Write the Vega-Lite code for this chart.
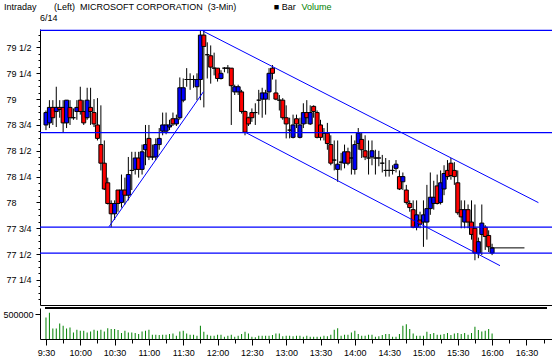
{
 "$schema": "https://vega.github.io/schema/vega-lite/v6.json",
 "padding": {"top": 3, "left": 0, "right": 0, "bottom": 0},
 "background": "white",
 "spacing": 2,
 "config": {
  "view": {"stroke": null},
  "font": "Liberation Sans",
  "axis": {"labelFont": "Liberation Sans", "labelFontSize": 9, "labelColor": "black", "domainColor": "black", "tickColor": "black", "grid": false, "domainWidth": 1, "tickWidth": 1, "labelOverlap": false, "labelSeparation": 0},
  "title": {"font": "Liberation Sans", "fontSize": 9, "fontWeight": "normal", "color": "black", "subtitleFont": "Liberation Sans", "subtitleFontSize": 9}
 },
 "title": {"text": "Intraday\u00a0\u00a0\u00a0\u00a0\u00a0\u00a0\u00a0(Left)\u00a0\u00a0MICROSOFT CORPORATION\u00a0\u00a0(3-Min)\u00a0\u00a0\u00a0\u00a0\u00a0\u00a0\u00a0\u00a0\u00a0\u00a0\u00a0\u00a0\u00a0\u00a0\u00a0■ Bar",
           "subtitle": "\u200b\u00a0\u00a0\u00a0\u00a0\u00a0\u00a0\u00a0\u00a0\u00a0\u00a0\u00a0\u00a0\u00a0\u00a0\u00a0\u00a0\u00a0\u00a0\u00a0\u00a0\u00a0\u00a0\u00a0\u00a0\u00a0\u00a0\u00a0\u00a0\u00a0\u00a0\u00a0\u00a0\u00a0\u00a0\u00a0\u00a0\u00a0\u00a0\u00a0\u00a0\u00a0\u00a0\u00a0\u00a0\u00a0\u00a0\u00a0\u00a0\u00a0\u00a0\u00a0\u00a0\u00a0\u00a0\u00a0\u00a0\u00a0\u00a0\u00a0\u00a0\u00a0\u00a0\u00a0\u00a0\u00a0\u00a0\u00a0\u00a0\u00a0\u00a0\u00a0\u00a0\u00a0\u00a0\u00a0\u00a0\u00a0\u00a0\u00a0\u00a0\u00a0\u00a0\u00a0\u00a0\u00a0\u00a0\u00a0\u00a0\u00a0\u00a0\u00a0\u00a0\u00a0\u00a0\u00a0\u00a0\u00a0\u00a0\u00a0\u00a0\u00a0\u00a0\u00a0\u00a0\u00a0\u00a0\u00a0\u00a0\u00a0\u00a0\u00a0\u00a0\u00a0\u00a0\u00a0\u00a0\u00a0\u00a0\u00a0Volume",
           "subtitleColor": "#008000", "subtitlePadding": -9,
           "anchor": "start", "dx": 4, "offset": 2},
 "datasets": {
  "bars": [
   {"m":570,"o":78.75,"h":78.89,"l":78.70,"c":78.87,"v":428000},
   {"m":573,"o":78.77,"h":78.99,"l":78.72,"c":78.92,"v":527000},
   {"m":576,"o":78.92,"h":78.99,"l":78.75,"c":78.82,"v":211000},
   {"m":579,"o":78.88,"h":79.12,"l":78.73,"c":78.92,"v":211000},
   {"m":582,"o":78.92,"h":78.99,"l":78.82,"c":78.90,"v":309000},
   {"m":585,"o":78.92,"h":78.99,"l":78.68,"c":78.77,"v":263000},
   {"m":588,"o":78.77,"h":78.99,"l":78.72,"c":78.99,"v":211000},
   {"m":591,"o":78.92,"h":78.99,"l":78.75,"c":78.82,"v":230000},
   {"m":594,"o":78.82,"h":78.91,"l":78.80,"c":78.82,"v":132000},
   {"m":597,"o":78.88,"h":78.99,"l":78.80,"c":78.92,"v":184000},
   {"m":600,"o":78.99,"h":79.12,"l":78.85,"c":78.88,"v":165000},
   {"m":603,"o":78.88,"h":78.99,"l":78.75,"c":78.77,"v":165000},
   {"m":606,"o":78.82,"h":79.11,"l":78.80,"c":78.99,"v":132000},
   {"m":609,"o":78.92,"h":79.11,"l":78.75,"c":78.88,"v":151000},
   {"m":612,"o":78.87,"h":79.00,"l":78.73,"c":78.76,"v":184000},
   {"m":615,"o":78.75,"h":79.01,"l":78.60,"c":78.62,"v":165000},
   {"m":618,"o":78.56,"h":78.94,"l":78.31,"c":78.38,"v":184000},
   {"m":621,"o":78.38,"h":78.60,"l":78.12,"c":78.13,"v":151000},
   {"m":624,"o":78.19,"h":78.24,"l":77.98,"c":77.99,"v":217000},
   {"m":627,"o":77.99,"h":78.02,"l":77.76,"c":77.89,"v":198000},
   {"m":630,"o":77.89,"h":78.02,"l":77.83,"c":77.99,"v":198000},
   {"m":633,"o":78.12,"h":78.12,"l":77.91,"c":77.99,"v":178000},
   {"m":636,"o":78.00,"h":78.27,"l":77.95,"c":78.12,"v":119000},
   {"m":639,"o":78.12,"h":78.24,"l":77.98,"c":78.07,"v":165000},
   {"m":642,"o":78.07,"h":78.44,"l":78.02,"c":78.27,"v":132000},
   {"m":645,"o":78.31,"h":78.49,"l":78.12,"c":78.31,"v":132000},
   {"m":648,"o":78.32,"h":78.49,"l":78.27,"c":78.43,"v":119000},
   {"m":651,"o":78.43,"h":78.49,"l":78.24,"c":78.32,"v":99000},
   {"m":654,"o":78.32,"h":78.56,"l":78.27,"c":78.49,"v":151000},
   {"m":657,"o":78.51,"h":78.75,"l":78.36,"c":78.56,"v":165000},
   {"m":660,"o":78.62,"h":78.75,"l":78.41,"c":78.44,"v":184000},
   {"m":663,"o":78.44,"h":78.56,"l":78.41,"c":78.44,"v":86000},
   {"m":666,"o":78.44,"h":78.62,"l":78.41,"c":78.56,"v":86000},
   {"m":669,"o":78.56,"h":78.72,"l":78.51,"c":78.62,"v":79000},
   {"m":672,"o":78.69,"h":78.87,"l":78.65,"c":78.75,"v":86000},
   {"m":675,"o":78.69,"h":78.87,"l":78.66,"c":78.75,"v":86000},
   {"m":678,"o":78.73,"h":78.80,"l":78.70,"c":78.75,"v":99000},
   {"m":681,"o":78.81,"h":78.87,"l":78.74,"c":78.76,"v":112000},
   {"m":684,"o":78.76,"h":78.85,"l":78.74,"c":78.81,"v":66000},
   {"m":687,"o":78.82,"h":79.21,"l":78.80,"c":79.11,"v":151000},
   {"m":690,"o":78.99,"h":79.20,"l":78.97,"c":79.11,"v":165000},
   {"m":693,"o":79.19,"h":79.30,"l":79.12,"c":79.19,"v":112000},
   {"m":696,"o":79.19,"h":79.25,"l":79.09,"c":79.19,"v":86000},
   {"m":699,"o":79.19,"h":79.23,"l":79.11,"c":79.19,"v":86000},
   {"m":702,"o":79.12,"h":79.25,"l":78.99,"c":79.19,"v":66000},
   {"m":705,"o":79.19,"h":79.66,"l":78.99,"c":79.62,"v":263000},
   {"m":708,"o":79.62,"h":79.66,"l":78.92,"c":79.51,"v":145000},
   {"m":711,"o":79.43,"h":79.55,"l":79.20,"c":79.43,"v":86000},
   {"m":714,"o":79.42,"h":79.52,"l":79.15,"c":79.31,"v":66000},
   {"m":717,"o":79.30,"h":79.45,"l":79.23,"c":79.30,"v":66000},
   {"m":720,"o":79.30,"h":79.30,"l":79.17,"c":79.20,"v":86000},
   {"m":723,"o":79.20,"h":79.28,"l":79.19,"c":79.25,"v":86000},
   {"m":726,"o":79.30,"h":79.31,"l":79.26,"c":79.30,"v":46000},
   {"m":729,"o":79.30,"h":79.33,"l":79.25,"c":79.30,"v":66000},
   {"m":732,"o":79.30,"h":79.30,"l":78.75,"c":79.13,"v":86000},
   {"m":735,"o":79.07,"h":79.14,"l":79.04,"c":79.12,"v":46000},
   {"m":738,"o":79.07,"h":79.14,"l":79.04,"c":79.12,"v":66000},
   {"m":741,"o":79.07,"h":79.09,"l":78.86,"c":78.88,"v":99000},
   {"m":744,"o":78.88,"h":78.89,"l":78.65,"c":78.68,"v":145000},
   {"m":747,"o":78.82,"h":78.83,"l":78.74,"c":78.76,"v":112000},
   {"m":750,"o":78.87,"h":78.91,"l":78.78,"c":78.82,"v":46000},
   {"m":753,"o":78.87,"h":78.96,"l":78.75,"c":78.87,"v":33000},
   {"m":756,"o":78.99,"h":79.09,"l":78.85,"c":78.99,"v":66000},
   {"m":759,"o":79.00,"h":79.11,"l":78.82,"c":79.06,"v":66000},
   {"m":762,"o":79.00,"h":79.09,"l":78.85,"c":79.06,"v":66000},
   {"m":765,"o":79.07,"h":79.30,"l":78.99,"c":79.25,"v":66000},
   {"m":768,"o":79.30,"h":79.33,"l":79.19,"c":79.25,"v":79000},
   {"m":771,"o":79.06,"h":79.19,"l":78.99,"c":79.00,"v":112000},
   {"m":774,"o":78.99,"h":79.04,"l":78.89,"c":78.99,"v":112000},
   {"m":777,"o":78.99,"h":79.01,"l":78.80,"c":78.82,"v":53000},
   {"m":780,"o":78.82,"h":78.94,"l":78.62,"c":78.76,"v":66000},
   {"m":783,"o":78.70,"h":78.82,"l":78.62,"c":78.70,"v":66000},
   {"m":786,"o":78.63,"h":78.85,"l":78.62,"c":78.75,"v":53000},
   {"m":789,"o":78.81,"h":78.85,"l":78.72,"c":78.76,"v":66000},
   {"m":792,"o":78.63,"h":78.82,"l":78.62,"c":78.75,"v":66000},
   {"m":795,"o":78.76,"h":78.96,"l":78.72,"c":78.87,"v":46000},
   {"m":798,"o":78.87,"h":78.99,"l":78.76,"c":78.82,"v":66000},
   {"m":801,"o":78.76,"h":78.94,"l":78.75,"c":78.87,"v":46000},
   {"m":804,"o":78.93,"h":78.94,"l":78.82,"c":78.88,"v":46000},
   {"m":807,"o":78.87,"h":78.89,"l":78.62,"c":78.63,"v":46000},
   {"m":810,"o":78.75,"h":78.80,"l":78.60,"c":78.63,"v":46000},
   {"m":813,"o":78.67,"h":78.72,"l":78.60,"c":78.67,"v":66000},
   {"m":816,"o":78.67,"h":78.77,"l":78.51,"c":78.57,"v":53000},
   {"m":819,"o":78.56,"h":78.65,"l":78.36,"c":78.38,"v":86000},
   {"m":822,"o":78.41,"h":78.60,"l":78.31,"c":78.41,"v":184000},
   {"m":825,"o":78.32,"h":78.60,"l":78.20,"c":78.37,"v":217000},
   {"m":828,"o":78.39,"h":78.48,"l":78.31,"c":78.39,"v":66000},
   {"m":831,"o":78.38,"h":78.56,"l":78.33,"c":78.49,"v":86000},
   {"m":834,"o":78.49,"h":78.53,"l":78.36,"c":78.38,"v":86000},
   {"m":837,"o":78.43,"h":78.65,"l":78.27,"c":78.43,"v":132000},
   {"m":840,"o":78.32,"h":78.60,"l":78.27,"c":78.56,"v":165000},
   {"m":843,"o":78.57,"h":78.72,"l":78.51,"c":78.67,"v":99000},
   {"m":846,"o":78.61,"h":78.68,"l":78.43,"c":78.51,"v":66000},
   {"m":849,"o":78.50,"h":78.65,"l":78.41,"c":78.44,"v":66000},
   {"m":852,"o":78.43,"h":78.60,"l":78.27,"c":78.43,"v":86000},
   {"m":855,"o":78.44,"h":78.60,"l":78.36,"c":78.50,"v":86000},
   {"m":858,"o":78.43,"h":78.51,"l":78.27,"c":78.43,"v":46000},
   {"m":861,"o":78.43,"h":78.50,"l":78.35,"c":78.43,"v":53000},
   {"m":864,"o":78.38,"h":78.46,"l":78.29,"c":78.38,"v":79000},
   {"m":867,"o":78.31,"h":78.43,"l":78.25,"c":78.31,"v":99000},
   {"m":870,"o":78.31,"h":78.41,"l":78.25,"c":78.31,"v":99000},
   {"m":873,"o":78.31,"h":78.36,"l":78.27,"c":78.31,"v":46000},
   {"m":876,"o":78.33,"h":78.41,"l":78.29,"c":78.37,"v":46000},
   {"m":879,"o":78.25,"h":78.31,"l":78.12,"c":78.13,"v":99000},
   {"m":882,"o":78.20,"h":78.29,"l":78.12,"c":78.25,"v":263000},
   {"m":885,"o":78.12,"h":78.17,"l":77.98,"c":78.00,"v":296000},
   {"m":888,"o":77.99,"h":78.02,"l":77.91,"c":77.95,"v":198000},
   {"m":891,"o":77.93,"h":78.02,"l":77.75,"c":77.76,"v":112000},
   {"m":894,"o":77.76,"h":78.02,"l":77.73,"c":77.88,"v":66000},
   {"m":897,"o":77.83,"h":77.91,"l":77.75,"c":77.79,"v":66000},
   {"m":900,"o":77.81,"h":78.02,"l":77.57,"c":77.88,"v":66000},
   {"m":903,"o":77.81,"h":78.17,"l":77.64,"c":77.94,"v":145000},
   {"m":906,"o":77.94,"h":78.29,"l":77.88,"c":78.05,"v":99000},
   {"m":909,"o":77.99,"h":78.21,"l":77.93,"c":78.05,"v":119000},
   {"m":912,"o":78.16,"h":78.27,"l":77.98,"c":77.99,"v":86000},
   {"m":915,"o":78.00,"h":78.31,"l":77.98,"c":78.19,"v":86000},
   {"m":918,"o":78.13,"h":78.36,"l":78.07,"c":78.28,"v":99000},
   {"m":921,"o":78.31,"h":78.41,"l":78.22,"c":78.25,"v":119000},
   {"m":924,"o":78.38,"h":78.43,"l":78.22,"c":78.26,"v":79000},
   {"m":927,"o":78.31,"h":78.39,"l":78.17,"c":78.25,"v":112000},
   {"m":930,"o":78.19,"h":78.31,"l":77.88,"c":77.90,"v":119000},
   {"m":933,"o":77.93,"h":78.02,"l":77.75,"c":77.86,"v":99000},
   {"m":936,"o":77.81,"h":78.02,"l":77.75,"c":77.93,"v":119000},
   {"m":939,"o":77.93,"h":77.98,"l":77.75,"c":77.81,"v":86000},
   {"m":942,"o":77.81,"h":78.02,"l":77.64,"c":77.69,"v":119000},
   {"m":945,"o":77.75,"h":77.98,"l":77.44,"c":77.51,"v":244000},
   {"m":948,"o":77.51,"h":77.66,"l":77.46,"c":77.62,"v":178000},
   {"m":951,"o":77.69,"h":77.98,"l":77.49,"c":77.80,"v":151000},
   {"m":954,"o":77.76,"h":77.78,"l":77.54,"c":77.67,"v":165000},
   {"m":957,"o":77.68,"h":77.73,"l":77.52,"c":77.57,"v":198000},
   {"m":960,"o":77.51,"h":77.60,"l":77.49,"c":77.56,"v":112000}
  ],
  "levels": [{"p": 79.666}, {"p": 78.675}, {"p": 77.76}, {"p": 77.51}],
  "trends": [
   {"m1": 625.1, "p1": 77.765, "m2": 707.7, "p2": 79.072},
   {"m1": 707.1, "p1": 79.66, "m2": 1000.5, "p2": 77.998},
   {"m1": 744.9, "p1": 78.675, "m2": 966.9, "p2": 77.388}
  ],
  "last": [{"m1": 958, "m2": 988.3, "p": 77.56}]
 },
 "vconcat": [
  {
   "width": 512,
   "height": 276,
   "title": {"text": "6/14", "anchor": "start", "frame": "group", "offset": 6},
   "data": {"name": "bars"},
   "resolve": {"axis": {"y": "independent"}},
   "layer": [
    {
     "mark": {"type": "rule", "color": "black", "strokeWidth": 1},
     "encoding": {
      "x": {"field": "m", "type": "quantitative",
            "scale": {"domain": [569.143, 1008], "nice": false, "zero": false},
            "axis": {"title": null, "labels": false, "ticks": false, "domain": true, "grid": false}},
      "y": {"field": "l", "type": "quantitative",
            "scale": {"domain": [77.007, 79.679], "nice": false, "zero": false},
            "axis": {"orient": "left", "title": null,
                     "values": [77.0625, 77.125, 77.1875, 77.3125, 77.375, 77.4375, 77.5625, 77.625, 77.6875, 77.8125, 77.875, 77.9375, 78.0625, 78.125, 78.1875, 78.3125, 78.375, 78.4375, 78.5625, 78.625, 78.6875, 78.8125, 78.875, 78.9375, 79.0625, 79.125, 79.1875, 79.3125, 79.375, 79.4375, 79.5625, 79.625],
                     "tickCount": 100, "labels": false, "domain": false, "tickSize": 2,
                     "minExtent": 40, "maxExtent": 40}},
      "y2": {"field": "h"}
     }
    },
    {
     "mark": {"type": "bar", "width": 4, "stroke": "black", "strokeWidth": 1},
     "encoding": {
      "x": {"field": "m", "type": "quantitative"},
      "y": {"field": "o", "type": "quantitative",
            "axis": {"orient": "left", "title": null,
                     "values": [77.25, 77.5, 77.75, 78, 78.25, 78.5, 78.75, 79, 79.25, 79.5],
                     "tickCount": 100,
                     "labelExpr": "floor(datum.value) + (datum.value % 1 == 0.25 ? ' 1/4' : datum.value % 1 == 0.5 ? ' 1/2' : datum.value % 1 == 0.75 ? ' 3/4' : '')",
                     "tickSize": 4, "domain": true,
                     "labelAlign": "left", "labelPadding": 30, "labelOverlap": false, "labelBaseline": "middle",
                     "minExtent": 40, "maxExtent": 40}},
      "y2": {"field": "c"},
      "fill": {"condition": {"test": "datum.c > datum.o", "value": "#0000ff"}, "value": "#ff0000"}
     }
    },
    {
     "data": {"name": "levels"},
     "mark": {"type": "rule", "color": "#0000ff", "strokeWidth": 1.3},
     "encoding": {"y": {"field": "p", "type": "quantitative", "axis": null}}
    },
    {
     "data": {"name": "trends"},
     "mark": {"type": "rule", "color": "#0000ff", "strokeWidth": 1},
     "encoding": {
      "x": {"field": "m1", "type": "quantitative"},
      "x2": {"field": "m2"},
      "y": {"field": "p1", "type": "quantitative", "axis": null},
      "y2": {"field": "p2"}
     }
    },
    {
     "data": {"name": "last"},
     "mark": {"type": "rule", "color": "black", "strokeWidth": 1},
     "encoding": {
      "x": {"field": "m1", "type": "quantitative"},
      "x2": {"field": "m2"},
      "y": {"field": "p", "type": "quantitative", "axis": null}
     }
    }
   ]
  },
  {
   "width": 512,
   "height": 31,
   "data": {"name": "bars"},
   "resolve": {"axis": {"x": "independent"}},
   "layer": [
    {
     "mark": {"type": "rule", "color": "black", "strokeWidth": 1},
     "encoding": {
      "x": {"datum": 569.143, "type": "quantitative",
            "scale": {"domain": [569.143, 1008], "nice": false, "zero": false},
            "axis": {"orient": "bottom", "title": null,
                     "values": [585, 615, 645, 675, 705, 735, 765, 795, 825, 855, 885, 915, 945, 975, 1005],
                     "tickCount": 100, "labels": false, "domain": false, "tickSize": 4}},
      "x2": {"datum": 1008},
      "y": {"datum": 620000, "type": "quantitative"}
     }
    },
    {
     "mark": {"type": "bar", "width": 1, "color": "#008000"},
     "encoding": {
      "x": {"field": "m", "type": "quantitative",
            "axis": {"orient": "bottom", "title": null,
                     "values": [570, 600, 630, 660, 690, 720, 750, 780, 810, 840, 870, 900, 930, 960, 990],
                     "tickCount": 100,
                     "labelExpr": "floor(datum.value / 60) + ':' + (datum.value % 60 == 0 ? '00' : '30')",
                     "tickSize": 6, "labelPadding": 3, "labelFlush": false, "labelOverlap": false, "domain": true}},
      "y": {"field": "v", "type": "quantitative",
            "scale": {"domain": [0, 620000], "nice": false},
            "axis": {"title": null, "values": [500000], "format": "d", "tickSize": 5, "labelPadding": 2, "minExtent": 40, "maxExtent": 40}}
     }
    }
   ]
  }
 ]
}
